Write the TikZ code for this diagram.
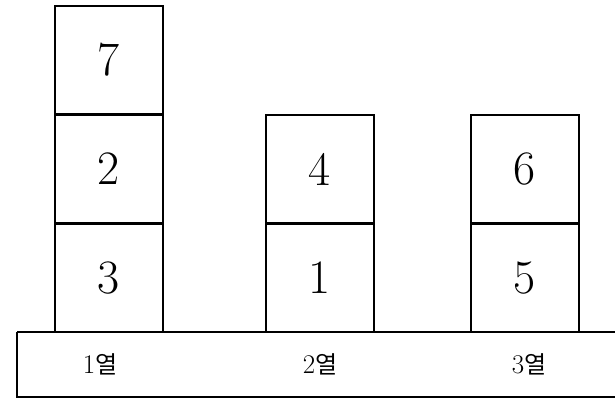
\documentclass[tikz,border=0pt]{standalone}
\usepackage{fontspec}
\newfontfamily\kr{Noto Sans CJK KR}
\begin{document}
\begin{tikzpicture}[x=1pt,y=-1pt,
  cell/.style={draw=black, line width=1.3pt, minimum width=108pt, minimum height=108pt, inner sep=0pt, font=\fontsize{48}{54}\selectfont},
  lbl/.style={inner sep=0pt, font=\fontsize{27}{30}\selectfont}]
\useasboundingbox (0,0) rectangle (615,398);
\draw[line width=1.3pt] (17,332) -- (17,397) -- (620,397);
\draw[line width=1.3pt] (17,332) -- (620,332);
% column 1
\node[cell] (c13) at (109,278) {3};
\node[cell] (c12) at (109,169) {2};
\node[cell] (c17) at (109,60) {7};
% column 2
\node[cell] (c21) at (320,278) {1};
\node[cell] (c24) at (320,169) {4};
% column 3
\node[cell] (c35) at (525,278) {5};
\node[cell] (c36) at (525,169) {6};
% labels
\node[lbl] (l1) at (100,364) {1{\kr\fontsize{24}{28}\selectfont 열}};
\node[lbl] (l2) at (320,364) {2{\kr\fontsize{24}{28}\selectfont 열}};
\node[lbl] (l3) at (529,364) {3{\kr\fontsize{24}{28}\selectfont 열}};
\end{tikzpicture}
\end{document}
